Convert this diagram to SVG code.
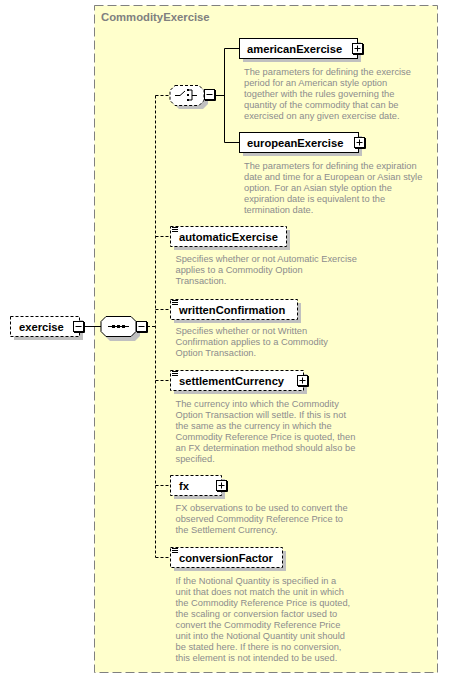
<svg xmlns="http://www.w3.org/2000/svg" width="449" height="679" viewBox="0 0 449 679">
<style>
.lbl{font-family:"Liberation Sans",Arial,sans-serif;font-weight:bold;font-size:11.2px;fill:#000}
.doc{font-family:"Liberation Sans",Arial,sans-serif;font-size:9.3px;fill:#8c8c8c}
.ttl{font-family:"Liberation Sans",Arial,sans-serif;font-weight:bold;font-size:11.3px;fill:#808080}
.sh{fill:#c0c0c0}
.box{fill:#fff;stroke:#000;stroke-width:1}
.dbox{fill:#fff;stroke:#000;stroke-width:1;stroke-dasharray:3,2}
.con{fill:none;stroke:#000;stroke-width:1}
.dcon{fill:none;stroke:#000;stroke-width:1;stroke-dasharray:3,2}
.btn{fill:#fff;stroke:#000;stroke-width:1}
</style>
<defs>
<g id="plus"><rect class="btn" x="0.5" y="0.5" width="10" height="10"/><path d="M1,11.5H11.5V1" fill="none" stroke="#000"/><path d="M2.5,5.5h6M5.5,2.5v6" stroke="#000"/></g>
<g id="minus"><rect class="btn" x="0.5" y="0.5" width="10" height="10"/><path d="M1,11.5H11.5V1" fill="none" stroke="#000"/><path d="M2.5,5.5h6" stroke="#000"/></g>
<g id="ann"><path d="M0,0.5h6M0,2.5h6M0,4.5h6" stroke="#000" stroke-width="1"/></g>
</defs>

<g id="complexType">
<rect x="94.5" y="5.5" width="343" height="667" fill="#ffffcc" stroke="#808080" stroke-dasharray="9,4"/>
<text class="ttl" x="101" y="21">CommodityExercise</text>
</g>

<g id="connectors">
<path class="con" d="M84,326.5H101"/>
<path class="dcon" d="M147,326.5H155.5"/>
<path class="dcon" d="M155.5,95.5V557.5"/>
<path class="dcon" d="M155.5,95.5H170"/>
<path class="dcon" d="M155.5,236.5H170.5"/>
<path class="dcon" d="M155.5,309.5H170.5"/>
<path class="dcon" d="M155.5,380.5H170.5"/>
<path class="dcon" d="M155.5,485.5H170.5"/>
<path class="dcon" d="M155.5,557.5H170.5"/>
<path class="con" d="M216,95.5H224.5M224.5,48.5V142.5M224.5,48.5H239.5M224.5,142.5H239.5"/>
</g>

<g id="exercise">
<rect class="sh" x="14" y="320" width="69" height="20"/>
<rect class="dbox" x="10.5" y="316.5" width="69" height="20"/>
<text class="lbl" x="19" y="330.5">exercise</text>
<use href="#minus" x="73" y="321"/>
</g>

<g id="sequence">
<path class="sh" d="M110,320H135L140,325V336L135,341H110L105,336V325Z"/>
<path d="M106,316.5H131L136,321.5V331.5L131,336.5H106L101,331.5V321.5Z" fill="#fff" stroke="#000"/>
<path d="M108,326.5H129" stroke="#000"/>
<rect x="112" y="325" width="3" height="3" fill="#000"/>
<rect x="117" y="325" width="3" height="3" fill="#000"/>
<rect x="122" y="325" width="3" height="3" fill="#000"/>
<use href="#minus" x="136" y="321"/>
</g>

<g id="choice">
<path class="sh" d="M179,89H203L208,94V104L203,109H179L174,104V94Z"/>
<path d="M175,85.5H199L204,90.5V100.5L199,105.5H175L170,100.5V90.5Z" fill="#fff" stroke="#000" stroke-dasharray="3,2"/>
<path d="M175,95.5H180L185,91" stroke="#000" fill="none"/>
<rect x="187" y="89" width="2" height="2" fill="#000"/>
<rect x="187" y="94" width="2" height="2" fill="#000"/>
<rect x="187" y="99" width="2" height="2" fill="#000"/>
<path d="M189,90H192V100H189M192,95.5H197" stroke="#000" fill="none"/>
<use href="#minus" x="204" y="89"/>
</g>

<g id="americanExercise">
<rect class="sh" x="243" y="42" width="118" height="20"/>
<rect class="box" x="239.5" y="38.5" width="118" height="20"/>
<text class="lbl" x="247" y="52.5">americanExercise</text>
<use href="#plus" x="352" y="43"/>
<text class="doc" x="244" y="74.5">The parameters for defining the exercise</text>
<text class="doc" x="244" y="85.5">period for an American style option</text>
<text class="doc" x="244" y="96.5">together with the rules governing the</text>
<text class="doc" x="244" y="107.5">quantity of the commodity that can be</text>
<text class="doc" x="244" y="118.5">exercised on any given exercise date.</text>
</g>

<g id="europeanExercise">
<rect class="sh" x="243" y="136" width="119" height="20"/>
<rect class="box" x="239.5" y="132.5" width="119" height="20"/>
<text class="lbl" x="247" y="146.5">europeanExercise</text>
<use href="#plus" x="354" y="137"/>
<text class="doc" x="244" y="168.5">The parameters for defining the expiration</text>
<text class="doc" x="244" y="179.5">date and time for a European or Asian style</text>
<text class="doc" x="244" y="190.5">option. For an Asian style option the</text>
<text class="doc" x="244" y="201.5">expiration date is equivalent to the</text>
<text class="doc" x="244" y="212.5">termination date.</text>
</g>

<g id="automaticExercise">
<rect class="sh" x="174" y="230" width="116" height="20"/>
<rect class="dbox" x="170.5" y="226.5" width="116" height="20"/>
<use href="#ann" x="172" y="227"/>
<text class="lbl" x="179" y="240.5">automaticExercise</text>
<text class="doc" x="175.5" y="262">Specifies whether or not Automatic Exercise</text>
<text class="doc" x="175.5" y="273">applies to a Commodity Option</text>
<text class="doc" x="175.5" y="284">Transaction.</text>
</g>

<g id="writtenConfirmation">
<rect class="sh" x="174" y="303" width="127" height="20"/>
<rect class="dbox" x="170.5" y="299.5" width="127" height="20"/>
<use href="#ann" x="172" y="300"/>
<text class="lbl" x="179" y="313.5">writtenConfirmation</text>
<text class="doc" x="175.5" y="333.5">Specifies whether or not Written</text>
<text class="doc" x="175.5" y="344.5">Confirmation applies to a Commodity</text>
<text class="doc" x="175.5" y="355.5">Option Transaction.</text>
</g>

<g id="settlementCurrency">
<rect class="sh" x="174" y="374" width="133" height="20"/>
<rect class="dbox" x="170.5" y="370.5" width="133" height="20"/>
<use href="#ann" x="172" y="371"/>
<text class="lbl" x="179" y="384.5">settlementCurrency</text>
<use href="#plus" x="297" y="375"/>
<text class="doc" x="175.5" y="407">The currency into which the Commodity</text>
<text class="doc" x="175.5" y="418">Option Transaction will settle. If this is not</text>
<text class="doc" x="175.5" y="429">the same as the currency in which the</text>
<text class="doc" x="175.5" y="440">Commodity Reference Price is quoted, then</text>
<text class="doc" x="175.5" y="451">an FX determination method should also be</text>
<text class="doc" x="175.5" y="462">specified.</text>
</g>

<g id="fx">
<rect class="sh" x="174" y="479" width="51" height="20"/>
<rect class="dbox" x="170.5" y="475.5" width="51" height="20"/>
<text class="lbl" x="179" y="489.5">fx</text>
<use href="#plus" x="216" y="480"/>
<text class="doc" x="175.5" y="511">FX observations to be used to convert the</text>
<text class="doc" x="175.5" y="522">observed Commodity Reference Price to</text>
<text class="doc" x="175.5" y="533">the Settlement Currency.</text>
</g>

<g id="conversionFactor">
<rect class="sh" x="174" y="551" width="112" height="20"/>
<rect class="dbox" x="170.5" y="547.5" width="112" height="20"/>
<use href="#ann" x="172" y="548"/>
<text class="lbl" x="179" y="561.5">conversionFactor</text>
<text class="doc" x="175.5" y="583.5">If the Notional Quantity is specified in a</text>
<text class="doc" x="175.5" y="594.5">unit that does not match the unit in which</text>
<text class="doc" x="175.5" y="605.5">the Commodity Reference Price is quoted,</text>
<text class="doc" x="175.5" y="616.5">the scaling or conversion factor used to</text>
<text class="doc" x="175.5" y="627.5">convert the Commodity Reference Price</text>
<text class="doc" x="175.5" y="638.5">unit into the Notional Quantity unit should</text>
<text class="doc" x="175.5" y="649.5">be stated here. If there is no conversion,</text>
<text class="doc" x="175.5" y="660.5">this element is not intended to be used.</text>
</g>
</svg>
